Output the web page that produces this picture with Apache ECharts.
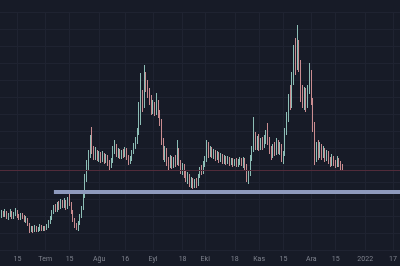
<!DOCTYPE html>
<html>
<head>
<meta charset="utf-8">
<script src="https://cdn.jsdelivr.net/npm/echarts@6/dist/echarts.min.js"></script>
<style>
html,body{margin:0;padding:0;background:#171b27;}
#c{width:400px;height:266px;}
</style>
</head>
<body>
<div id="c"></div>
<script>
// Daily candles from 2021-06-05
const startDay = '2021-06-05';
const totalDays = 231;
const opens = [
36,34,37,35,38,33,35,37,33,36,
38,34,32,35,33,30,31,26,20,22,
19,23,20,21,24,20,22,21,24,28,
32,38,42,40,45,43,48,44,47,43,
50,46,38,30,25,23,27,34,42,55,
72,85,95,108,100,94,98,92,96,91,
95,90,93,87,84,89,100,104,96,99,
94,98,95,100,93,88,91,98,104,110,
118,140,150,145,172,165,158,150,140,145,
138,148,136,128,110,95,100,90,86,92,
85,90,87,100,88,80,84,76,72,75,
67,70,64,68,66,74,80,78,86,90,
104,96,100,95,98,93,96,91,94,89,
92,88,91,87,90,86,89,85,88,90,
86,89,84,72,76,92,100,112,104,110,
102,108,104,110,115,110,100,94,103,98,
106,100,104,92,96,118,132,150,145,170,
190,185,205,185,160,150,158,145,160,175,
150,125,92,102,96,104,95,100,92,97,
90,86,92,88,85,90,87,84];
const closes = [
34,37,35,38,33,35,37,33,36,38,
34,32,35,33,30,31,26,20,22,19,
23,20,21,24,20,22,21,24,28,32,
38,42,40,45,43,48,44,47,43,50,
46,38,30,25,23,27,34,42,55,72,
85,95,108,100,94,98,92,96,91,95,
90,93,87,84,89,100,104,96,99,94,
98,95,100,93,88,91,98,104,110,118,
140,150,145,172,165,158,150,140,145,138,
148,136,128,110,95,100,90,86,92,85,
90,87,100,88,80,84,76,72,75,67,
70,64,68,66,74,80,78,86,90,104,
96,100,95,98,93,96,91,94,89,92,
88,91,87,90,86,89,85,88,90,86,
89,84,72,76,92,100,112,104,110,102,
108,104,110,115,110,100,94,103,98,106,
100,104,92,96,118,132,150,145,170,190,
185,205,185,160,150,158,145,160,175,150,
125,92,102,96,104,95,100,92,97,90,
86,92,88,85,90,87,84,82];
const lows = [
31,32,33,33,31,30,33,31,31,34,
32,30,30,31,28,27,24,17,18,17,
18,18,18,19,19,19,19,20,22,26,
30,36,38,38,40,41,42,42,40,41,
44,36,28,22,20,19,25,32,40,52,
68,80,92,96,90,90,89,88,87,88,
86,87,84,80,82,87,96,93,92,91,
91,92,93,90,85,86,89,96,101,106,
115,125,138,142,158,152,145,135,136,134,
135,132,124,105,90,88,84,80,82,81,
82,83,85,84,76,75,72,68,66,63,
62,61,62,62,64,72,75,76,83,88,
92,93,92,91,89,90,87,88,86,86,
85,86,84,85,83,84,83,83,85,84,
82,80,68,66,74,89,98,100,100,99,
100,100,102,106,105,96,90,92,94,95,
96,95,88,86,94,115,128,140,142,165,
175,180,178,148,142,140,138,142,156,145,
118,85,88,90,92,90,92,88,89,86,
83,84,84,82,83,83,80,80];
const highs = [
39,40,39,41,39,37,41,39,38,42,
40,36,37,37,35,34,32,27,24,24,
25,24,23,26,25,24,24,26,30,34,
40,45,46,48,49,51,50,52,50,53,
60,48,40,32,27,29,36,44,58,76,
90,100,115,123,104,103,100,99,98,99,
97,96,95,90,92,104,110,106,102,101,
100,101,103,102,95,94,100,107,113,122,
148,177,160,185,178,170,162,155,150,148,
157,150,140,131,112,104,102,93,95,94,
93,95,110,102,90,87,86,79,78,76,
73,72,71,72,76,83,85,89,94,110,
108,104,103,101,100,99,98,97,96,95,
94,94,93,92,92,91,92,91,93,92,
93,92,86,79,95,104,133,118,114,116,
112,113,115,120,127,113,104,106,108,112,
110,108,106,99,122,138,156,165,178,205,
212,225,210,190,165,163,162,165,187,180,
152,128,108,110,108,106,104,102,100,99,
93,96,94,90,94,92,89,86];
const tickLabels = {
  '2021-06-15':'15','2021-07-01':'Tem','2021-07-15':'15','2021-08-01':'Ağu',
  '2021-08-16':'16','2021-09-01':'Eyl','2021-09-18':'18','2021-10-01':'Eki',
  '2021-10-18':'18','2021-11-01':'Kas','2021-11-15':'15','2021-12-01':'Ara',
  '2021-12-15':'15','2022-01-01':'2022','2022-01-17':'17'
};
const supportLevel = 58.5;
const supportStart = '2021-07-06';
const redLevel = 80;

const dates = [];
{
  const d0 = new Date(startDay + 'T00:00:00Z');
  for (let i = 0; i < totalDays; i++) {
    const d = new Date(d0.getTime() + i * 86400000);
    dates.push(d.toISOString().slice(0, 10));
  }
}
const candles = opens.map((o, i) => [o, closes[i], lows[i], highs[i]]);
const isTick = (idx, val) => tickLabels[val] !== undefined;

const chart = echarts.init(document.getElementById('c'));
chart.setOption({
  backgroundColor: '#171b27',
  animation: false,
  grid: { left: 0, right: 0, top: 12, bottom: 16, outerBoundsMode: 'none' },
  xAxis: {
    type: 'category',
    data: dates,
    boundaryGap: false,
    axisLine: { show: false },
    axisTick: { show: false },
    axisLabel: {
      interval: isTick,
      formatter: v => tickLabels[v] || '',
      color: '#7e828d',
      fontSize: 7,
      fontFamily: 'Roboto',
      margin: 6
    },
    splitLine: { show: true, interval: isTick, lineStyle: { color: '#1f2331', width: 1 } }
  },
  yAxis: {
    type: 'value',
    min: 0, max: 238, interval: 17,
    axisLine: { show: false },
    axisTick: { show: false },
    axisLabel: { show: false },
    splitLine: { show: true, lineStyle: { color: '#1f2331', width: 1 } }
  },
  series: [{
    type: 'candlestick',
    data: candles,
    barWidth: 1,
    itemStyle: {
      color: '#5e9f96', color0: '#b5737a',
      borderColor: '#8cbdb5', borderColor0: '#c98c90',
      borderWidth: 1
    },
    markLine: {
      silent: true,
      symbol: ['none', 'none'],
      label: { show: false },
      emphasis: { disabled: true },
      lineStyle: { color: '#512b3a', width: 1, type: 'solid', opacity: 1 },
      data: [
        [{ coord: [supportStart, supportLevel], lineStyle: { color: '#8e9abd', width: 4, type: 'solid' } },
         { coord: [dates[dates.length - 1], supportLevel] }],
        { yAxis: redLevel, lineStyle: { color: '#512b3a', width: 1, type: 'solid' } }
      ]
    }
  }]
});
</script>
</body>
</html>
